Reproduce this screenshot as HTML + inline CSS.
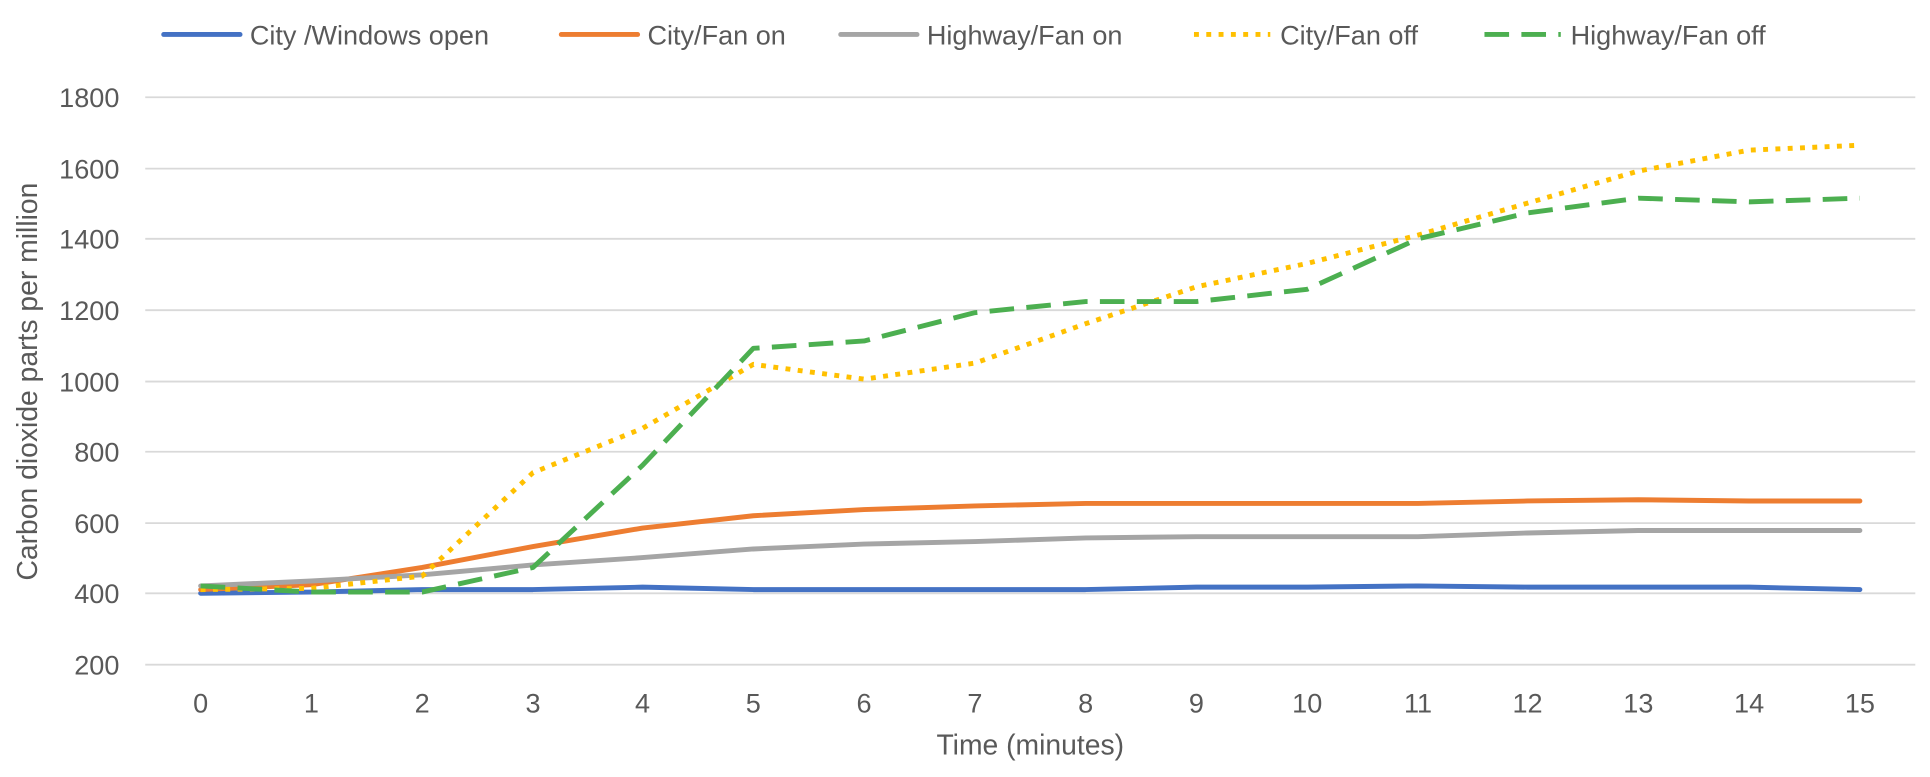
<!DOCTYPE html>
<html><head><style>body{margin:0;background:#fff}svg{display:block}</style></head><body>
<svg width="1930" height="777" xmlns="http://www.w3.org/2000/svg" font-family="Liberation Sans, sans-serif" fill="#595959">
<g transform="scale(1.2309)">
<g stroke="#d9d9d9" stroke-width="1.5">
<line x1="118" x2="1556" y1="79" y2="79"/><line x1="118" x2="1556" y1="137" y2="137"/><line x1="118" x2="1556" y1="194" y2="194"/><line x1="118" x2="1556" y1="252" y2="252"/><line x1="118" x2="1556" y1="310" y2="310"/><line x1="118" x2="1556" y1="367" y2="367"/><line x1="118" x2="1556" y1="425" y2="425"/><line x1="118" x2="1556" y1="482" y2="482"/><line x1="118" x2="1556" y1="540" y2="540"/>
</g>
<g font-size="22" text-anchor="end">
<text x="97" y="87">1800</text><text x="97" y="145">1600</text><text x="97" y="202">1400</text><text x="97" y="260">1200</text><text x="97" y="318">1000</text><text x="97" y="375">800</text><text x="97" y="433">600</text><text x="97" y="490">400</text><text x="97" y="548">200</text>
</g>
<g font-size="22" text-anchor="middle">
<text x="163" y="579">0</text><text x="253" y="579">1</text><text x="343" y="579">2</text><text x="433" y="579">3</text><text x="522" y="579">4</text><text x="612" y="579">5</text><text x="702" y="579">6</text><text x="792" y="579">7</text><text x="882" y="579">8</text><text x="972" y="579">9</text><text x="1062" y="579">10</text><text x="1152" y="579">11</text><text x="1241" y="579">12</text><text x="1331" y="579">13</text><text x="1421" y="579">14</text><text x="1511" y="579">15</text>
<text x="837" y="613" font-size="23">Time (minutes)</text>
<text transform="translate(30,310) rotate(-90)" font-size="23">Carbon dioxide parts per million</text>
</g>
<g fill="none" stroke-width="4" stroke-linejoin="round" stroke-linecap="round">
<polyline stroke="#4472c4" points="163,482 253,481 343,479 433,479 522,477 612,479 702,479 792,479 882,479 972,477 1062,477 1152,476 1241,477 1331,477 1421,477 1511,479"/>
<polyline stroke="#ed7d31" points="163,479 253,475 343,461 433,444 522,429 612,419 702,414 792,411 882,409 972,409 1062,409 1152,409 1241,407 1331,406 1421,407 1511,407"/>
<polyline stroke="#a5a5a5" points="163,476 253,472 343,467 433,459 522,453 612,446 702,442 792,440 882,437 972,436 1062,436 1152,436 1241,433 1331,431 1421,431 1511,431"/>
<polyline stroke="#ffc000" stroke-linecap="butt" stroke-dasharray="4,6" points="163,479 253,478 343,468 433,384 522,348 612,296 702,308 792,295 882,263 972,233 1062,214 1152,191 1241,165 1331,139 1421,122 1511,118"/>
<polyline stroke="#4caf50" stroke-linecap="butt" stroke-dasharray="20,10" points="163,476 253,481 343,481 433,461 522,378 612,283 702,277 792,254 882,245 972,245 1062,235 1152,194 1241,173 1331,161 1421,164 1511,161"/>
</g>
<g stroke-width="4">
<line x1="133" x2="195" y1="28" y2="28" stroke="#4472c4" stroke-linecap="round"/>
<line x1="456" x2="518" y1="28" y2="28" stroke="#ed7d31" stroke-linecap="round"/>
<line x1="683" x2="745" y1="28" y2="28" stroke="#a5a5a5" stroke-linecap="round"/>
<line x1="970" x2="1032" y1="28" y2="28" stroke="#ffc000" stroke-dasharray="4,6"/>
<line x1="1206" x2="1268" y1="28" y2="28" stroke="#4caf50" stroke-dasharray="20,10"/>
</g>
<g font-size="22">
<text x="203" y="36">City /Windows open</text>
<text x="526" y="36">City/Fan on</text>
<text x="753" y="36">Highway/Fan on</text>
<text x="1040" y="36">City/Fan off</text>
<text x="1276" y="36">Highway/Fan off</text>
</g>
</g>
</svg>
</body></html>
